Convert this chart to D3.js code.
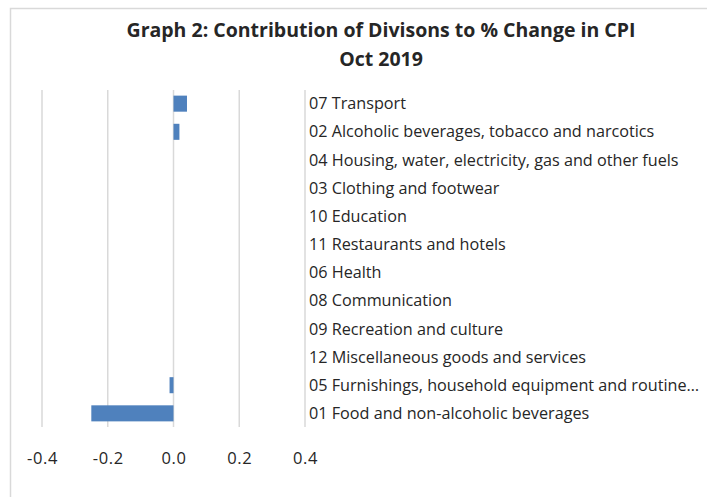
<!DOCTYPE html>
<html>
<head>
<meta charset="utf-8">
<script src="https://cdn.jsdelivr.net/npm/d3@7"></script>
<style>
  body { margin: 0; background: #fff; }
  text { font-family: "Open Sans", sans-serif; fill: #262626; }
</style>
</head>
<body>
<div id="chart"></div>
<script>
// chart data
var divisions = [
  "07 Transport",
  "02 Alcoholic beverages, tobacco and narcotics",
  "04 Housing, water, electricity, gas and other fuels",
  "03 Clothing and footwear",
  "10 Education",
  "11 Restaurants and hotels",
  "06 Health",
  "08 Communication",
  "09 Recreation and culture",
  "12 Miscellaneous goods and services",
  "05 Furnishings, household equipment and routine\u2026",
  "01 Food and non-alcoholic beverages"
];
var contribution = [0.041, 0.018, 0, 0, 0, 0, 0, 0, 0, 0, -0.012, -0.25];
var tickValues = [-0.4, -0.2, 0.0, 0.2, 0.4];

var width = 707, height = 497;

var svg = d3.select('#chart').append('svg')
  .attr('width', width)
  .attr('height', height);

// chart border (right side is cut off in the original)
svg.append('path')
  .attr('d', 'M10.5,497 V8.5 H707')
  .attr('fill', 'none')
  .attr('stroke', '#d9d9d9')
  .attr('stroke-width', 1.5);

var x = d3.scaleLinear().domain([-0.4, 0.4]).range([42, 305]);
var y = d3.scaleBand().domain(divisions).range([90, 427]).paddingInner(0.43).paddingOuter(0.2);

// gridlines
svg.append('g').selectAll('line').data(tickValues)
  .enter().append('line')
  .attr('x1', function(d) { return x(d); })
  .attr('x2', function(d) { return x(d); })
  .attr('y1', 90)
  .attr('y2', 427)
  .attr('stroke', '#d9d9d9')
  .attr('stroke-width', 1.5);

// bars
svg.append('g').selectAll('rect').data(contribution)
  .enter().append('rect')
  .attr('x', function(d) { return x(Math.min(0, d)); })
  .attr('y', function(d, i) { return y(divisions[i]); })
  .attr('width', function(d) { return Math.abs(x(d) - x(0)); })
  .attr('height', y.bandwidth())
  .attr('fill', '#4f81bd');

// tick labels, plain hyphen for the minus like excel
var axis = d3.axisBottom(x).tickValues(tickValues)
  .tickFormat(function(d) { return d3.format('.1f')(d).replace('\u2212', '-'); })
  .tickSize(0).tickPadding(0);
var ax = svg.append('g').attr('transform', 'translate(0,464)').call(axis);
ax.select('.domain').remove();
ax.selectAll('text')
  .attr('dy', 0)
  .style('font-size', '16.5px')
  .style('letter-spacing', '0.6px')
  .style('font-family', '"Open Sans", sans-serif')
  .attr('fill', '#262626');

// category labels
svg.append('g').selectAll('text').data(divisions)
  .enter().append('text')
  .attr('x', 309)
  .attr('y', function(d) { return y(d) + y.bandwidth() / 2; })
  .attr('dy', '0.35em')
  .style('font-size', '16.2px')
  .text(function(d) { return d; });

// title
svg.append('text')
  .attr('x', 381)
  .attr('y', 37)
  .attr('text-anchor', 'middle')
  .style('font-size', '19.5px')
  .style('font-weight', 'bold')
  .text('Graph 2: Contribution of Divisons to % Change in CPI');
svg.append('text')
  .attr('x', 381)
  .attr('y', 66)
  .attr('text-anchor', 'middle')
  .style('font-size', '19.5px')
  .style('font-weight', 'bold')
  .text('Oct 2019');
</script>
</body>
</html>
